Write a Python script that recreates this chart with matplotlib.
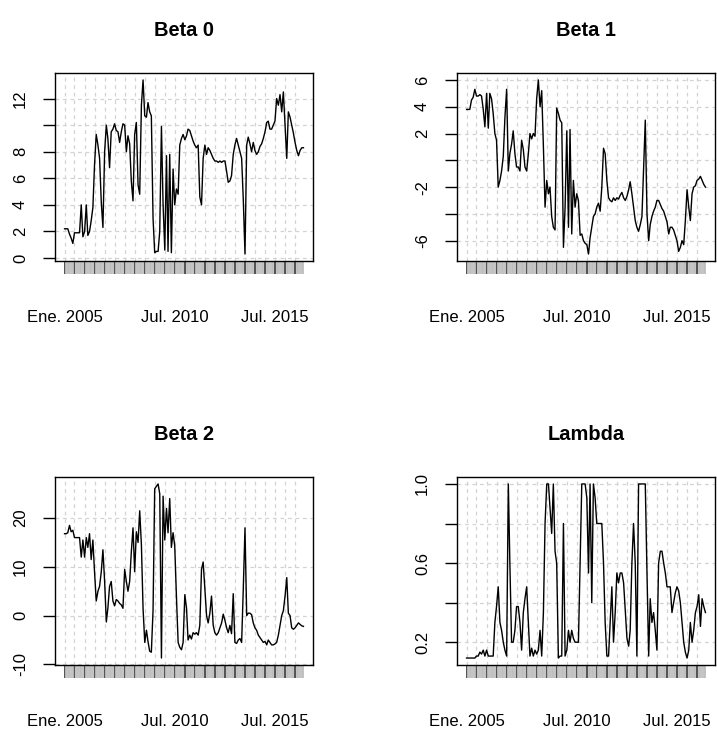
import numpy as np
import pandas as pd
import matplotlib
matplotlib.use("Agg")
import matplotlib.pyplot as plt

plt.rcParams['font.family'] = ['Liberation Sans', 'DejaVu Sans']

# monthly estimates, Jan 2005 - Dec 2016 (one row per year)
beta0 = [2.2, 2.2, 2.2, 1.8, 1.5, 1.1, 1.9, 1.9, 1.9, 1.9, 4.0, 1.6,
         2.0, 4.0, 1.7, 2.0, 2.8, 3.8, 7.0, 9.3, 8.5, 7.5, 4.2, 2.3,
         8.0, 10.0, 9.0, 6.8, 9.5, 9.7, 10.1, 9.6, 9.5, 8.7, 9.5, 10.1,
         10.0, 8.0, 9.2, 8.6, 5.8, 4.3, 9.3, 10.2, 5.5, 4.8, 11.5, 13.4,
         10.7, 10.6, 11.7, 11.0, 10.7, 3.0, 0.4, 0.5, 0.5, 2.0, 9.9, 4.0,
         0.6, 7.7, 0.5, 7.8, 0.4, 6.7, 4.0, 5.2, 4.8, 8.5, 9.0, 9.3,
         8.9, 9.2, 9.7, 9.6, 9.2, 8.8, 8.5, 8.3, 8.5, 4.6, 4.0, 7.5,
         8.5, 7.8, 8.3, 8.1, 7.8, 7.5, 7.3, 7.3, 7.2, 7.3, 7.2, 7.3,
         7.3, 6.5, 5.7, 5.8, 6.2, 7.8, 8.5, 9.0, 8.5, 8.0, 7.5, 4.4,
         0.3, 8.5, 9.1, 8.6, 8.0, 8.7, 8.1, 7.8, 8.0, 8.4, 8.6, 9.0,
         9.5, 10.2, 10.3, 9.7, 9.7, 10.0, 10.3, 12.0, 11.5, 12.3, 11.0, 12.5,
         10.0, 7.5, 11.0, 10.6, 10.0, 9.4, 8.7, 8.1, 7.7, 8.1, 8.3, 8.3]

beta1 = [3.8, 3.8, 3.8, 4.5, 4.7, 5.3, 4.8, 4.8, 4.9, 4.8, 3.8, 2.5,
         5.0, 2.4, 5.0, 4.6, 3.5, 2.0, 1.5, -2.0, -1.5, -0.8, 0.3, 3.2,
         5.3, -0.8, 0.5, 1.2, 2.2, 0.5, -0.5, -0.5, -0.8, 1.5, 0.8, -0.5,
         -0.8, 0.5, 2.0, 1.6, 2.0, 1.8, 4.6, 6.0, 4.0, 5.2, 1.0, -3.5,
         -1.5, -2.5, -2.0, -4.2, -5.0, -5.2, 3.9, 3.5, 3.0, 2.8, -6.5, -3.5,
         2.2, -5.0, 2.3, -5.5, -1.5, -3.5, -2.5, -3.0, -5.6, -5.5, -6.0, -6.2,
         -6.3, -7.0, -5.8, -5.0, -4.2, -4.0, -3.5, -3.2, -3.8, -2.0, 0.9, 0.5,
         -1.5, -2.8, -3.0, -3.1, -2.8, -3.0, -2.8, -2.9, -2.6, -2.4, -2.8, -3.0,
         -2.7, -2.2, -1.6, -2.5, -3.5, -4.5, -5.0, -5.3, -4.8, -4.2, -0.5, 3.0,
         -4.0, -6.0, -4.8, -4.2, -3.8, -3.5, -3.0, -3.0, -3.3, -3.6, -3.8, -4.2,
         -4.6, -5.5, -5.0, -5.0, -5.2, -5.6, -6.0, -6.8, -6.5, -6.0, -6.3, -4.5,
         -2.2, -3.5, -4.5, -2.5, -2.0, -1.9, -1.5, -1.4, -1.2, -1.5, -1.8, -2.0]

beta2 = [16.8, 16.8, 17.0, 18.5, 17.2, 17.5, 16.0, 16.0, 16.0, 16.0, 12.0, 15.5,
         12.0, 16.0, 14.0, 16.8, 11.5, 15.5, 9.0, 3.0, 5.0, 6.0, 9.0, 13.5,
         7.0, -1.3, 1.5, 6.0, 7.0, 3.0, 2.0, 3.3, 3.0, 2.5, 2.2, 1.5,
         9.5, 7.0, 5.0, 7.0, 13.0, 18.0, 9.0, 17.2, 15.0, 21.5, 14.5, 1.5,
         -5.5, -3.0, -5.3, -7.3, -7.5, 1.0, 26.0, 26.5, 27.0, 25.0, -8.7, 24.5,
         15.5, 22.0, 17.0, 24.0, 14.0, 17.0, 14.3, 4.0, -5.5, -6.5, -7.0, -5.5,
         4.3, 1.5, -5.0, -4.0, -4.8, -3.5, -3.8, -3.5, -4.0, -2.0, 9.5, 11.0,
         5.5, 0.0, -1.5, 0.5, 4.0, -2.0, -3.5, -4.0, -3.5, -2.5, -1.5, 0.3,
         -1.0, -2.5, -3.5, -2.0, -3.7, 4.5, -5.5, -5.7, -5.0, -4.7, -5.5, 5.5,
         18.0, 0.0, 0.5, 0.5, 0.2, -1.5, -2.5, -3.0, -4.0, -4.5, -5.0, -5.5,
         -5.3, -6.0, -5.0, -5.5, -6.0, -6.0, -5.8, -5.5, -4.0, -2.0, 0.0, 1.0,
         4.0, 7.8, 0.5, 0.0, -2.5, -2.8, -2.5, -2.0, -1.5, -1.8, -2.1, -2.2]

lam = [0.12, 0.12, 0.12, 0.12, 0.12, 0.12, 0.13, 0.13, 0.15, 0.14, 0.16, 0.13,
       0.16, 0.13, 0.13, 0.13, 0.13, 0.30, 0.38, 0.48, 0.30, 0.26, 0.20, 0.16,
       0.13, 1.00, 0.60, 0.20, 0.20, 0.26, 0.38, 0.38, 0.30, 0.16, 0.35, 0.42,
       0.48, 0.30, 0.13, 0.17, 0.13, 0.16, 0.14, 0.16, 0.26, 0.13, 0.35, 0.80,
       1.00, 1.00, 0.88, 0.75, 1.00, 0.66, 0.60, 0.12, 0.13, 0.13, 0.80, 0.13,
       0.16, 0.26, 0.20, 0.26, 0.22, 0.20, 0.20, 0.20, 0.60, 1.00, 1.00, 1.00,
       0.93, 0.55, 1.00, 0.40, 1.00, 0.93, 0.80, 0.80, 0.80, 0.80, 0.60, 0.30,
       0.13, 0.13, 0.30, 0.48, 0.20, 0.35, 0.55, 0.50, 0.55, 0.55, 0.50, 0.36,
       0.22, 0.18, 0.26, 0.60, 0.80, 0.60, 0.13, 1.00, 1.00, 1.00, 1.00, 1.00,
       0.55, 0.13, 0.42, 0.30, 0.35, 0.26, 0.16, 0.60, 0.66, 0.66, 0.60, 0.55,
       0.48, 0.48, 0.48, 0.35, 0.40, 0.45, 0.48, 0.46, 0.40, 0.30, 0.20, 0.15,
       0.12, 0.16, 0.30, 0.20, 0.26, 0.35, 0.38, 0.44, 0.28, 0.42, 0.38, 0.35]

dates = pd.date_range('2005-01-01', periods=144, freq='MS')
half_years = pd.date_range('2005-01-01', '2016-12-01', freq='6MS')
x_labels = {'2005-01': 'Ene. 2005', '2010-07': 'Jul. 2010', '2015-07': 'Jul. 2015'}

titles = ['Beta 0', 'Beta 1', 'Beta 2', 'Lambda']
series = [beta0, beta1, beta2, lam]
yticks = [[0, 2, 4, 6, 8, 10, 12],
          [-6, -4, -2, 0, 2, 4, 6],
          [-10, 0, 10, 20],
          [0.2, 0.4, 0.6, 0.8, 1.0]]
ytick_labels = [['0', '2', '4', '6', '8', '', '12'],
                ['-6', '', '-2', '', '2', '4', '6'],
                ['-10', '0', '10', '20'],
                ['0.2', '', '0.6', '', '1.0']]

W, H = 717, 732
fig = plt.figure(figsize=(W / 100, H / 100), dpi=100)
boxes = [(55, 73), (457, 73), (55, 477), (457, 477)]  # left, top in px
bw, bh = 258, 188

for i in range(4):
    l, t = boxes[i]
    ax = fig.add_axes([l / W, (H - t - bh) / H, bw / W, bh / H])
    ax.plot(dates, series[i], color='black', lw=1.0)
    ax.margins(x=0.04, y=0.04)
    ax.set_title(titles[i], fontsize=14.4, fontweight='bold', pad=27)

    ax.set_yticks(yticks[i])
    ax.set_yticklabels(ytick_labels[i], rotation=90, va='center')
    ax.set_xticks(half_years)
    ax.set_xticklabels([x_labels.get(d.strftime('%Y-%m'), '') for d in half_years])
    ax.set_xticks(dates, minor=True)

    ax.tick_params(axis='y', length=8.5, width=1.0, pad=11, labelsize=12)
    ax.tick_params(axis='x', which='major', length=9.0, width=1.1,
                   color='#222222', pad=26, labelsize=12)
    ax.tick_params(axis='x', which='minor', length=9.0, width=1.3,
                   color='#BEBEBE')

    ax.grid(True, which='major', color='#D3D3D3', linestyle=(0, (3, 3)), lw=0.9)
    ax.set_axisbelow(True)
    for s in ax.spines.values():
        s.set_linewidth(1.0)
    ax.spines['bottom'].set_visible(False)
    ax.plot([0, 1], [0, 0], transform=ax.transAxes, color='black', lw=1.0,
            clip_on=False)

fig.savefig('out.png', dpi=100)
